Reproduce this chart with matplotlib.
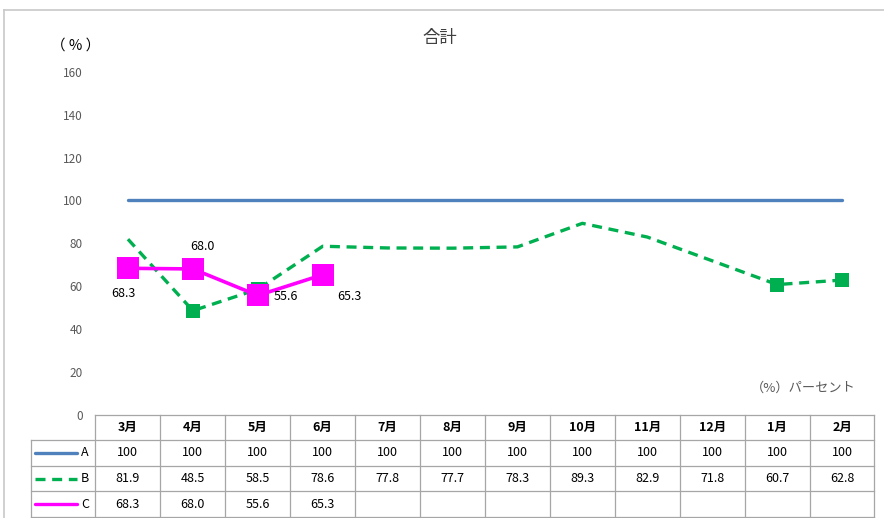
import matplotlib.pyplot as plt
import numpy as np

plt.rcParams['font.family'] = ['Noto Sans CJK JP', 'DejaVu Sans']

months = ['3月', '4月', '5月', '6月', '7月', '8月', '9月', '10月', '11月', '12月', '1月', '2月']
series_a = [100, 100, 100, 100, 100, 100, 100, 100, 100, 100, 100, 100]
series_b = [81.9, 48.5, 58.5, 78.6, 77.8, 77.7, 78.3, 89.3, 82.9, 71.8, 60.7, 62.8]
series_c = [68.3, 68.0, 55.6, 65.3]
b_marker_idx = [1, 2, 10, 11]
c_label_offsets = [(-3.6, -18), (7, 16.5), (20, -1), (19.5, -16)]

W, H = 884, 518
fig = plt.figure(figsize=(W / 100, H / 100), dpi=100)

# chart frame: only top and left edges show in the reference
frame = dict(transform=fig.transFigure, color='#c8c8c8', lw=1.2)
fig.add_artist(plt.Line2D([4 / W, 1], [1 - 9.5 / H, 1 - 9.5 / H], **frame))
fig.add_artist(plt.Line2D([4 / W, 4 / W], [0, 1 - 9.5 / H], **frame))

left, right = 95.5, 874.5
top, bottom = 72, 414.5
ax = fig.add_axes([left / W, (H - bottom) / H, (right - left) / W, (bottom - top) / H])
ax.set_xlim(-0.5, len(months) - 0.5)
ax.set_ylim(0, 160)
ax.set_yticks(np.arange(0, 161, 20))
ax.tick_params(axis='y', length=0, pad=9, labelsize=8.5, labelcolor='#595959')
ax.set_xticks([])
for s in ax.spines.values():
    s.set_visible(False)
ax.patch.set_alpha(0)

x = np.arange(len(months))
ax.plot(x, series_a, color='#4f81bd', lw=2.4, solid_capstyle='round')
ax.plot(x, series_b, color='#00b050', lw=2.4, ls=(0, (3, 2)),
        marker='s', markersize=10.5, markevery=b_marker_idx, markeredgewidth=0)
xc = np.arange(len(series_c))
ax.plot(xc, series_c, color='#ff00ff', lw=2.6,
        marker='s', markersize=16, markeredgewidth=0)
for xi, v, off in zip(xc, series_c, c_label_offsets):
    ax.annotate(f'{v:.1f}', (xi, v), xytext=off, textcoords='offset points',
                ha='center', va='center', fontsize=9, color='black')

ax.text(10.4, 12.2, '（%）パーセント', ha='center', va='center', fontsize=9.5, color='#595959')
fig.text(440 / W, 1 - 38 / H, '合計', ha='center', va='center', fontsize=12.5, color='#404040')
fig.text(76 / W, 1 - 46 / H, '（ % ）', ha='center', va='center', fontsize=10.5, color='black')

# data table below the plot
tbl_left, tbl_bottom = 30.5, 517
tax = fig.add_axes([tbl_left / W, (H - tbl_bottom) / H, (right - tbl_left) / W, (tbl_bottom - bottom) / H])
tax.set_xlim(-1.5, len(months) - 0.5)
tax.set_ylim(4, 0)
tax.axis('off')
grid = dict(color='#a6a6a6', lw=0.9, clip_on=False)
tax.plot([-0.5, len(months) - 0.5], [0, 0], **grid)
for r in range(1, 5):
    tax.plot([-1.5, len(months) - 0.5], [r, r], **grid)
tax.plot([-1.5, -1.5], [1, 4], **grid)
for c in range(len(months) + 1):
    tax.plot([c - 0.5, c - 0.5], [0, 4], **grid)

for i, m in enumerate(months):
    tax.text(i, 0.5, m, ha='center', va='center', fontsize=9, fontweight='bold')
rows = [('A', series_a), ('B', series_b), ('C', series_c)]
for r, (name, vals) in enumerate(rows, start=1):
    for i, v in enumerate(vals):
        txt = f'{v:.0f}' if v == 100 else f'{v:.1f}'
        tax.text(i, r + 0.5, txt, ha='center', va='center', fontsize=9)
    tax.text(-0.6, r + 0.5, name, ha='right', va='center', fontsize=9)

tax.plot([-1.43, -0.78], [1.5, 1.5], color='#4f81bd', lw=2.4, solid_capstyle='round')
tax.plot([-1.43, -0.78], [2.5, 2.5], color='#00b050', lw=2.4, ls=(0, (3, 2)))
tax.plot([-1.43, -0.78], [3.5, 3.5], color='#ff00ff', lw=2.4, solid_capstyle='round')

fig.savefig('out.png', dpi=100)
